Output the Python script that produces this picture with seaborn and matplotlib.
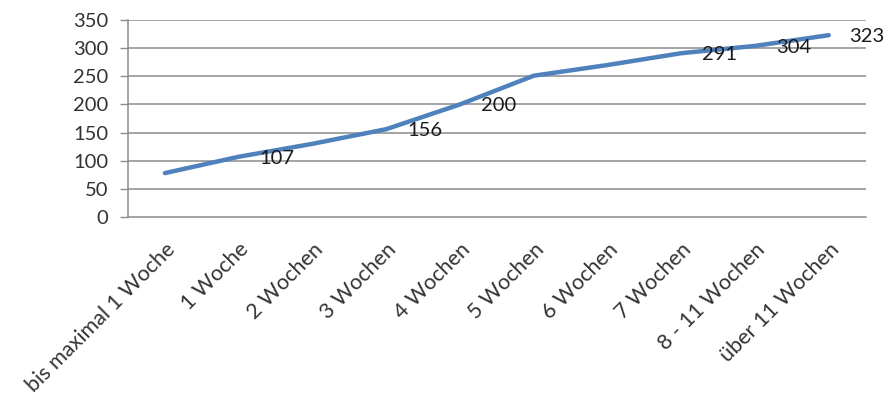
import numpy as np
import pandas as pd
import matplotlib
matplotlib.use("Agg")
import matplotlib.pyplot as plt
import seaborn as sns

# Data
categories = ["bis maximal 1 Woche", "1 Woche", "2 Wochen", "3 Wochen", "4 Wochen",
              "5 Wochen", "6 Wochen", "7 Wochen", "8 - 11 Wochen", "über 11 Wochen"]
values = [78, 107, 130, 156, 200, 251, 270, 291, 304, 323]
# only some points carry a visible data label
labelled = [1, 3, 4, 7, 8, 9]
y_ticks = [0, 50, 100, 150, 200, 250, 300, 350]

sns.set_style("white")
plt.rcParams["font.family"] = ["Lato", "DejaVu Sans"]

df = pd.DataFrame({"pos": np.arange(len(categories)), "value": values})

fig = plt.figure(figsize=(8.86, 4.0), dpi=100)
ax = fig.add_axes([0.1445, 0.4575, 0.8325, 0.4925])

grid_col = "#8c8c8c"
for yv in y_ticks[1:]:
    ax.axhline(yv, color=grid_col, lw=1.1, zorder=0)

sns.lineplot(data=df, x="pos", y="value", ax=ax, color="#4F81BD", lw=3.2,
             solid_capstyle="round", zorder=3)

for i in labelled:
    ax.annotate(str(values[i]), (i, values[i]), xytext=(15, -1), textcoords="offset points",
                ha="left", va="center", fontsize=14.5, color="#1a1a1a", zorder=4)

ax.set_xlim(-0.5, len(categories) - 0.5)
ax.set_ylim(0, 350)
ax.set_yticks(y_ticks)
ax.set_yticklabels([str(v) for v in y_ticks], fontsize=14.5, color="#333333")

ax.set_xticks(np.arange(len(categories)))
ax.set_xticklabels(categories, rotation=45, ha="right", va="top", rotation_mode="anchor",
                   fontsize=15.5, color="#333333")
ax.set_xticks(np.arange(-0.5, len(categories)), minor=True)
ax.tick_params(axis="x", which="major", length=0, pad=16)
ax.tick_params(axis="x", which="minor", length=6, width=1, color=grid_col, direction="out")
ax.tick_params(axis="y", length=6, width=1, color=grid_col, direction="out", pad=8, left=True)

for s in ["top", "right"]:
    ax.spines[s].set_visible(False)
for s in ["left", "bottom"]:
    ax.spines[s].set_color(grid_col)
    ax.spines[s].set_linewidth(1.1)

ax.set_xlabel("")
ax.set_ylabel("")

fig.savefig("out.png", dpi=100)
